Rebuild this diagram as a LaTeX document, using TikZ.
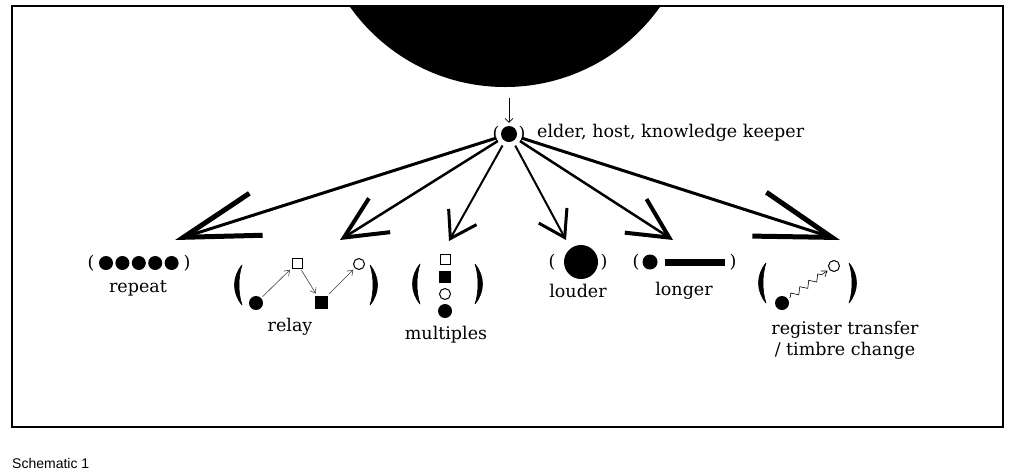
\documentclass[tikz,border=0pt]{standalone}
\usepackage{fontspec}
\setmainfont{DejaVu Serif}
\setsansfont{Liberation Sans}
\usetikzlibrary{arrows.meta,decorations.pathmorphing}

\tikzset{
  lbl/.style={font=\fontsize{17.5}{21}\selectfont, inner sep=0pt, align=center},
  par/.style={font=\fontsize{17.5}{20}\selectfont, inner sep=0pt},
  blackdot/.style={circle, fill=black, inner sep=0pt, minimum size=14pt},
  opendot/.style={circle, draw=black, line width=1pt, inner sep=0pt, minimum size=11pt},
  opensq/.style={rectangle, draw=black, line width=1pt, inner sep=0pt, minimum size=10pt},
  blacksq/.style={rectangle, fill=black, inner sep=0pt, minimum size=13pt},
  relayline/.style={draw=black!75, line width=0.6pt, -{Straight Barb[length=5pt,width=7pt]}, shorten <=2pt, shorten >=2pt},
  bigbracket/.pic={
    \filldraw[line width=0.6pt, line join=round] (4,-20) .. controls (-6,-8) and (-6,8) .. (4,20)
      .. controls (0,8) and (0,-8) .. cycle;
  },
}

\begin{document}
\begin{tikzpicture}[x=1pt,y=-1pt]
    \useasboundingbox (0,0) rectangle (1024,475);
    % frame and the sun
    \begin{scope}
      \clip (12,6) rectangle (1003,427);
      \fill (505,-103) circle[radius=190pt];
    \end{scope}
    \draw[line width=2pt] (12,6) rectangle (1003,427);
    \coordinate (sun) at (509,87);
    \node[font=\sffamily\fontsize{14}{16}\selectfont, anchor=base west, inner sep=0pt] (cap) at (12,468) {Schematic 1};

    % elder
    \node[blackdot, minimum size=16pt] (el) at (509,134) {};
    \node[par] (ell) at (496,134) {(};
    \node[par] (elr) at (522,134) {)};
    \node[lbl, anchor=west] (ellbl) at (537,133) {elder, host, knowledge keeper};
    \draw[line width=0.7pt, -{Straight Barb[length=4pt,width=8pt]}, shorten <=11pt, shorten >=3pt] (sun) -- (el);

    % arrow tips
    \coordinate (tRepeat) at (175,240);
    \coordinate (tRelay) at (340,240);
    \coordinate (tMult) at (449,241);
    \coordinate (tLoud) at (566,240);
    \coordinate (tLong) at (673,240);
    \coordinate (tReg) at (840,240);
    \draw[line width=3pt, shorten <=5pt, -{Straight Barb[length=76pt,width=44pt,line width=5pt]}] (el) -- (tRepeat);
    \draw[line width=2.5pt, shorten <=5pt, -{Straight Barb[length=42pt,width=40pt,line width=4pt]}] (el) -- (tRelay);
    \draw[line width=2pt, shorten <=5pt, -{Straight Barb[length=25pt,width=32pt,line width=3pt]}] (el) -- (tMult);
    \draw[line width=2pt, shorten <=5pt, -{Straight Barb[length=25pt,width=32pt,line width=3pt]}] (el) -- (tLoud);
    \draw[line width=2.5pt, shorten <=5pt, -{Straight Barb[length=40pt,width=40pt,line width=4pt]}] (el) -- (tLong);
    \draw[line width=3pt, shorten <=5pt, -{Straight Barb[length=76pt,width=46pt,line width=5pt]}] (el) -- (tReg);

    % repeat
    \node[par] (rpl) at (91,263) {(};
    \foreach \i in {0,...,4}
      \node[blackdot] (rp\i) at ({106+16.4*\i},263) {};
    \node[par] (rpr) at (187,263) {)};
    \node[lbl] (rplbl) at (138,288) {repeat};

    % relay
    \pic at (238,285) {bigbracket};
    \pic[xscale=-1] at (374,285) {bigbracket};
    \node[blackdot] (r1) at (256,303) {};
    \node[opensq] (r2) at (297,263) {};
    \node[blacksq] (r3) at (321,302) {};
    \node[opendot] (r4) at (359,264) {};
    \draw[relayline] (r1) -- (r2);
    \draw[relayline] (r2) -- (r3);
    \draw[relayline] (r3) -- (r4);
    \node[lbl] (rllbl) at (290,327) {relay};

    % multiples
    \pic at (416,284) {bigbracket};
    \pic[xscale=-1] at (479,284) {bigbracket};
    \node[opensq] (m1) at (445,259) {};
    \node[blacksq, minimum size=12pt] (m2) at (445,277) {};
    \node[opendot] (m3) at (445,294) {};
    \node[blackdot] (m4) at (445,311) {};
    \node[lbl] (mplbl) at (446,335) {multiples};

    % louder
    \node[par] (ldl) at (552,262) {(};
    \node[blackdot, minimum size=34pt] (ld) at (581,262) {};
    \node[par] (ldr) at (604,262) {)};
    \node[lbl] (ldlbl) at (578,291) {louder};

    % longer
    \node[par] (lgl) at (636,262) {(};
    \node[blackdot, minimum size=15pt] (lg) at (650,262) {};
    \node[fill=black, inner sep=0pt, minimum width=60pt, minimum height=7pt] (bar) at (695,262) {};
    \node[par] (lgr) at (733,262) {)};
    \node[lbl] (lglbl) at (684,291) {longer};

    % register transfer
    \pic at (762,283) {bigbracket};
    \pic[xscale=-1] at (853,283) {bigbracket};
    \node[blackdot] (g1) at (782,303) {};
    \node[opendot] (g2) at (834,266) {};
    \draw[line width=0.6pt, decorate, decoration={zigzag, segment length=11pt, amplitude=3pt, pre length=3pt, post length=7pt}, -{Straight Barb[length=5pt,width=7pt]}, shorten <=2pt, shorten >=2pt] (g1) -- (g2);
    \node[lbl] (rglbl) at (845,340) {register transfer\\/ timbre change};
\end{tikzpicture}
\end{document}
